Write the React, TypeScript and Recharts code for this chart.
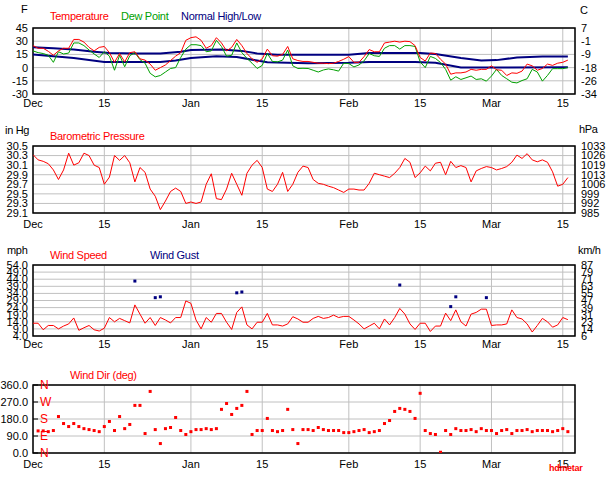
import React from 'react';
import { ComposedChart, Line, Scatter, XAxis, YAxis, CartesianGrid, ReferenceArea } from 'recharts';

// days counted from Dec 1
const MONTH_TICKS = [0, 14, 31, 45, 62, 76, 90, 104];
const MONTH_LABELS = ['Dec', '15', 'Jan', '15', 'Feb', '15', 'Mar', '15'];
const X_MAX = 106.4;

const TEMP_F = [
  25, 22, 22, 18.5, 14, 19, 22, 22, 32, 32,
  29, 23, 19, 23, 24, 17, 6, 16, 6.5, 17,
  18, 10, 8.5, 4, -3, 0, 3, 8, 13, 17,
  31, 34, 35, 31, 22, 25, 34, 28, 19, 23,
  32, 25, 16, 10, 6, 10, 21, 13.5, 13, 15,
  24, 10, 8, 7, 7, 6, 5, 5, 4.5, 5,
  7, 9.5, 12.5, 6, 6, 12.5, 20.5, 18, 18, 28,
  29, 30, 29, 30, 29.5, 25, 11.5, 7.5, 16.5, 16,
  9.5, 4, -7.5, -6, -6, -5, -2, -3, -2, -2,
  2, -2.5, -3, -9, -6, -6.5, -4, 4, 2, -3,
  -1, 4, 2.5, 5, 6, 8.5,
];

const DEW_F = [
  19, 17, 16, 14, 6, 18, 15.5, 16.5, 28, 28,
  25, 20, 15.5, 11.5, 18, 13, -3, 14, 1, 13.5,
  17, 9, 5, -6.5, -10.5, -9, -5, -1, 0, 11.5,
  21, 26, 26, 25, 18, 19, 31, 24, 13, 14,
  28, 17, 10.5, 5, -1, 2.5, 16, 7, 6.5, 8.5,
  20, 2, -1, -0.8, -1, -3, -5, -2.7, -1.5, -2.5,
  -4, 5, 4.6, 0.8, 3, 7.7, 16, 13.5, 12.7, 22,
  25, 25, 21, 25, 25, 24, 6.5, 0, 12.7, 10.4,
  5.8, -2, -14.3, -10.4, -13.5, -11.6, -9.6, -13.5, -12.7, -15.4,
  -9.6, -2, -8.9, -12.7, -16.6, -17.4, -14.7, -12.7, -2, -5,
  -15.4, -8.9, -1.2, -1.2, -1.2, 0,
];

const NORM_HI_DAYS = [0, 4, 8, 12, 15, 20, 25, 29, 31, 37, 41, 44, 48, 55, 62, 66, 76, 79, 84, 88, 91, 95, 100, 105];
const NORM_HI_F = [23, 22, 20.5, 18, 16.5, 16, 16, 18, 20, 20.5, 19, 16, 14.5, 14.5, 14.5, 16.5, 16.5, 15.5, 11, 8, 8.5, 11.5, 12.5, 12.5];
const NORM_LO_DAYS = [0, 8, 14, 25, 28, 31, 36, 40, 44, 46, 54, 62, 66, 75, 79, 84, 105];
const NORM_LO_F = [15, 11, 6.5, 6.5, 8, 11, 13, 12, 8, 6, 5, 5.5, 6.5, 6.5, 5.5, 0, 0.5];

const PRESSURE_INHG = [
  30.32, 30.21, 30.18, 30.13, 30.0, 29.8, 30.0, 30.35, 30.1, 30.15,
  30.35, 30.3, 30.1, 30.05, 29.7, 29.85, 30.3, 30.2, 30.3, 30.15,
  29.75, 30.05, 29.95, 29.6, 29.45, 29.17, 29.35, 29.55, 29.62, 29.55,
  29.3, 29.33, 29.3, 29.33, 29.7, 29.92, 29.4, 29.38, 29.6, 29.93,
  29.7, 29.47, 29.93, 30.1, 30.2, 30.05, 29.6, 29.55, 29.7, 29.95,
  29.55, 29.7, 29.95, 30.08, 30.05, 29.8, 29.72, 29.7, 29.66, 29.63,
  29.58, 29.53, 29.6, 29.6, 29.58, 29.58, 29.72, 29.93, 29.9, 29.87,
  29.84, 29.93, 30.05, 30.24, 30.16, 29.84, 29.94, 30.08, 29.98, 30.14,
  30.16, 29.9, 30.18, 30.05, 30.09, 30.05, 29.75, 29.98, 30.03, 30.07,
  30.05, 30.0, 30.03, 30.07, 30.16, 30.31, 30.24, 30.34, 30.21, 30.17,
  30.21, 30.16, 29.96, 29.66, 29.7, 29.84,
];

const WIND_MPH = [
  13, 13, 8.4, 11.4, 11.4, 9, 11, 12.5, 16.7, 8,
  9.8, 11.4, 8.4, 7.5, 9.5, 17, 14, 16.4, 14.8, 13.2,
  25.9, 19.4, 13, 17, 11.4, 17, 15.3, 13.2, 17, 17,
  28.7, 27, 15.3, 9, 17, 13.7, 19.9, 19.9, 13.7, 8.6,
  20.6, 24.5, 11.8, 9, 13.7, 13.7, 19.9, 11.8, 11.8, 11,
  12.5, 17.6, 16, 13.7, 13.7, 16.4, 17.8, 16.4, 17, 18.7,
  17, 17.8, 17.8, 15.3, 12.5, 9, 11, 13, 9, 16,
  11.8, 17, 23.4, 19.4, 12.5, 8.6, 13, 13, 7.2, 11,
  11, 20.1, 14.8, 22.4, 14, 11, 19.4, 20.6, 22.9, 22.9,
  11.4, 11.8, 11.8, 12.5, 22.4, 17, 16, 12.5, 6.8, 11.4,
  16.4, 14, 10.2, 11.8, 17, 15.5,
];

const GUST_DAYS = [20, 24, 25, 40, 41, 72, 82, 83, 89];
const GUST_MPH = [42.7, 31, 31.6, 34.4, 35, 39.9, 24.7, 31.6, 31];

// from Dec 2 onwards
const DIR_DEG = [
  117, 117, 113, 119, 193, 156, 140, 156, 140,
  129, 124, 119, 113, 140, 167, 119, 193, 129, 151,
  252, 252, 103, 326, 124, 50, 129, 135, 188, 119,
  98, 113, 124, 124, 129, 124, 129, 231, 262, 204,
  236, 252, 326, 98, 119, 119, 183, 119, 113, 119,
  231, 124, 50, 124, 124, 119, 135, 124, 119, 119,
  119, 108, 108, 113, 119, 124, 108, 113, 119, 156,
  172, 220, 236, 231, 220, 183, 316, 119, 103, 98,
  4, 119, 98, 129, 119, 119, 124, 113, 129, 119,
  119, 103, 119, 124, 103, 119, 119, 124, 113, 119,
  119, 119, 113, 119, 129, 113,
];

const TEMP_TICKS = [-30, -15, 0, 15, 30, 45];
const PRESS_TICKS = [29.1, 29.3, 29.5, 29.7, 29.9, 30.1, 30.3, 30.5];
const WIND_TICKS = [4, 9, 14, 19, 24, 29, 34, 39, 44, 49, 54];
const DIR_TICKS = [0, 90, 180, 270, 360];
const COMPASS = ['N', 'E', 'S', 'W', 'N'];

const tempData = TEMP_F.map((v, i) => ({ d: i, v }));
const dewData = DEW_F.map((v, i) => ({ d: i, v }));
const hiData = NORM_HI_F.map((v, i) => ({ d: NORM_HI_DAYS[i], v }));
const loData = NORM_LO_F.map((v, i) => ({ d: NORM_LO_DAYS[i], v }));
const pressData = PRESSURE_INHG.map((v, i) => ({ d: i, v }));
const windData = WIND_MPH.map((v, i) => ({ d: i, v }));
const gustData = GUST_MPH.map((v, i) => ({ d: GUST_DAYS[i], v }));
const dirData = DIR_DEG.map((v, i) => ({ d: i + 1, v }));

const FONT = '"Liberation Sans", Arial, sans-serif';
const TICK = { fontSize: 11, fill: '#000' };
const GRID = '#c0c0c0';
const RED = '#ff0000';
const GREEN = '#00a000';
const NAVY = '#000080';

const square = (color: string) => (p: any) => (
  <rect x={p.cx - 1.5} y={p.cy - 1.5} width={3} height={3} fill={color} />
);

function frame(
  ticks: number[],
  domain: [number, number],
  xh: number,
  tm: number,
  fmtLeft: (v: number) => string,
  fmtRight: ((v: number) => string) | null,
  compass = false,
) {
  return [
    <XAxis
      key="xb" xAxisId="b" dataKey="d" type="number" domain={[0, X_MAX]} allowDataOverflow
      ticks={MONTH_TICKS} interval={0} tickFormatter={(v) => MONTH_LABELS[MONTH_TICKS.indexOf(v)]}
      tick={TICK} tickLine={false} tickSize={0} tickMargin={tm} axisLine={false} height={xh}
    />,
    <XAxis
      key="xm" xAxisId="m" dataKey="d" type="number" domain={[0, X_MAX]} allowDataOverflow
      ticks={MONTH_TICKS} interval={0} mirror tick={false} axisLine={false}
      tickLine={{ stroke: '#000' }} tickSize={5}
    />,
    <YAxis
      key="yl" yAxisId="l" type="number" domain={domain} allowDataOverflow ticks={ticks} interval={0}
      tickFormatter={fmtLeft} tick={TICK} tickLine={false} tickSize={0} tickMargin={5}
      axisLine={false} width={33}
    />,
    <YAxis
      key="ylm" yAxisId="lm" type="number" domain={domain} allowDataOverflow ticks={ticks} interval={0}
      mirror axisLine={false} tickLine={{ stroke: '#000' }} tickSize={5} tickMargin={2}
      tick={compass ? { fontSize: 12, fill: RED } : false}
      tickFormatter={compass ? (v) => COMPASS[DIR_TICKS.indexOf(v)] : undefined}
    />,
    <YAxis
      key="yr" yAxisId="r" orientation="right" type="number" domain={domain} allowDataOverflow
      ticks={ticks} interval={0} tickFormatter={fmtRight ?? undefined} tick={fmtRight ? TICK : false}
      tickLine={false} tickSize={0} tickMargin={6} axisLine={false} width={39}
    />,
    <YAxis
      key="yrm" yAxisId="rm" orientation="right" type="number" domain={domain} allowDataOverflow
      ticks={ticks} interval={0} mirror tick={false} axisLine={false}
      tickLine={{ stroke: '#000' }} tickSize={5}
    />,
    <ReferenceArea
      key="border" xAxisId="b" yAxisId="l" x1={0} x2={X_MAX} y1={domain[0]} y2={domain[1]}
      fill="none" stroke="#000" strokeWidth={1.5}
    />,
  ];
}

function Text({ children, left, cy, color = '#000', size = 11, bold = false }: any) {
  return (
    <div
      style={{
        position: 'absolute', left, top: cy - size * 0.6, fontSize: size, lineHeight: `${size * 1.2}px`,
        color, whiteSpace: 'nowrap', letterSpacing: -0.3, fontWeight: bold ? 'bold' : 'normal',
      }}
    >
      {children}
    </div>
  );
}

function Panel({ top, height, mt, children }: any) {
  return (
    <div style={{ position: 'absolute', left: 0, top }}>
      <ComposedChart width={614} height={height} margin={{ top: mt, right: 0, bottom: 0, left: 0 }}>
        {children}
      </ComposedChart>
    </div>
  );
}

export default function App() {
  return (
    <div
      style={{
        position: 'absolute', left: 0, top: 0, width: 614, height: 480, background: '#fff',
        fontFamily: FONT, overflow: 'hidden',
      }}
    >
      <Panel top={0} height={112} mt={28}>
        <CartesianGrid xAxisId="b" yAxisId="l" stroke={GRID} />
        <Line xAxisId="b" yAxisId="l" data={hiData} dataKey="v" stroke={NAVY} strokeWidth={2} dot={false} isAnimationActive={false} />
        <Line xAxisId="b" yAxisId="l" data={loData} dataKey="v" stroke={NAVY} strokeWidth={2} dot={false} isAnimationActive={false} />
        <Line xAxisId="b" yAxisId="l" data={dewData} dataKey="v" stroke={GREEN} strokeWidth={1} dot={false} isAnimationActive={false} />
        <Line xAxisId="b" yAxisId="l" data={tempData} dataKey="v" stroke={RED} strokeWidth={1} dot={false} isAnimationActive={false} />
        {frame(TEMP_TICKS, [-30, 45], 18, 5, (v) => String(v), (v) => String(Math.round(((v - 32) * 5) / 9)))}
      </Panel>

      <Panel top={118} height={112} mt={28}>
        <CartesianGrid xAxisId="b" yAxisId="l" stroke={GRID} />
        <Line xAxisId="b" yAxisId="l" data={pressData} dataKey="v" stroke={RED} strokeWidth={1} dot={false} isAnimationActive={false} />
        {frame(PRESS_TICKS, [29.1, 30.5], 17, 7, (v) => v.toFixed(1), (v) => String(Math.round(v * 33.8639)))}
      </Panel>

      <Panel top={238} height={117} mt={27}>
        <CartesianGrid xAxisId="b" yAxisId="l" stroke={GRID} />
        <Line xAxisId="b" yAxisId="l" data={windData} dataKey="v" stroke={RED} strokeWidth={1} dot={false} isAnimationActive={false} />
        <Scatter xAxisId="b" yAxisId="l" data={gustData} dataKey="v" shape={square(NAVY)} isAnimationActive={false} />
        {frame(WIND_TICKS, [4, 54], 19, 4, (v) => v.toFixed(1), (v) => String(Math.round(v * 1.609344)))}
      </Panel>

      <Panel top={360} height={115} mt={25}>
        <CartesianGrid xAxisId="b" yAxisId="l" stroke={GRID} />
        <Scatter xAxisId="b" yAxisId="l" data={dirData} dataKey="v" shape={square(RED)} isAnimationActive={false} />
        {frame(DIR_TICKS, [0, 360], 22, 7, (v) => v.toFixed(1), null, true)}
      </Panel>

      <Text left={21} cy={10}>F</Text>
      <Text left={580} cy={10.5}>C</Text>
      <Text left={50} cy={16.5} color={RED}>Temperature</Text>
      <Text left={121} cy={16.5} color={GREEN}>Dew Point</Text>
      <Text left={181} cy={16.5} color={NAVY}>Normal High/Low</Text>

      <Text left={5} cy={131}>in Hg</Text>
      <Text left={579} cy={130}>hPa</Text>
      <Text left={50} cy={137} color={RED}>Barometric Pressure</Text>

      <Text left={7} cy={251}>mph</Text>
      <Text left={578} cy={251}>km/h</Text>
      <Text left={50} cy={256} color={RED}>Wind Speed</Text>
      <Text left={150} cy={256} color={NAVY}>Wind Gust</Text>

      <Text left={70} cy={376} color={RED}>Wind Dir (deg)</Text>
      <Text left={549} cy={468} color={RED} size={9} bold>hdmetar</Text>
    </div>
  );
}
